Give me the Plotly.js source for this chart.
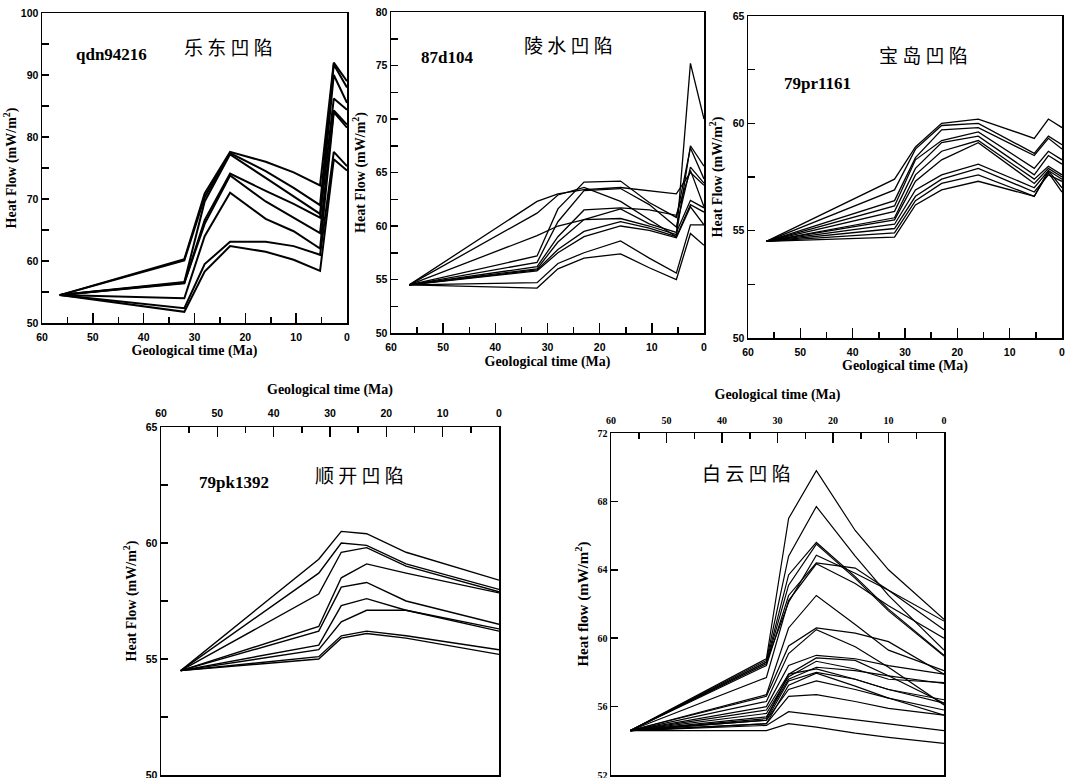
<!DOCTYPE html>
<html>
<head>
<meta charset="utf-8">
<script src="https://cdn.plot.ly/plotly-3.0.1.min.js"></script>
<style>
html,body{margin:0;padding:0;background:#fff;}
#chart{width:1070px;height:778px;}
</style>
</head>
<body>
<div id="chart"></div>
<script>
// ---------------- DATA ----------------
// 乐东凹陷 qdn94216
const ledongTime = [56.5, 32, 28, 23, 16, 10.5, 5.3, 2.6, 0];
const ledongSeries = [
  [54.5, 60.3, 70.9, 77.6, 76.0, 74.3, 72.2, 92.0, 89.0],
  [54.5, 60.1, 70.3, 77.4, 74.5, 71.8, 69.0, 91.7, 88.0],
  [54.5, 56.6, 69.6, 77.2, 73.4, 70.4, 67.6, 90.0, 85.5],
  [54.5, 56.4, 66.6, 74.1, 71.3, 69.2, 67.0, 86.2, 84.4],
  [54.5, 56.5, 66.0, 73.8, 69.6, 67.0, 64.5, 84.3, 82.0],
  [54.5, 54.0, 64.0, 71.0, 66.8, 64.8, 62.0, 84.0, 81.5],
  [54.5, 52.4, 59.5, 63.1, 63.1, 62.4, 61.0, 77.6, 75.3],
  [54.5, 51.8, 58.3, 62.4, 61.5, 60.2, 58.4, 76.4, 74.6]
];
// 陵水凹陷 87d104
const lingshuiTime = [56.5, 32, 28, 23, 16, 10.5, 5.3, 2.6, 0];
const lingshuiSeries = [
  [54.5, 62.3, 63.0, 63.4, 63.6, 63.3, 63.0, 65.0, 63.8],
  [54.5, 61.2, 62.9, 63.6, 62.3, 60.6, 59.0, 75.2, 70.0],
  [54.5, 59.1, 60.0, 60.6, 60.7, 60.0, 59.2, 67.5, 65.6],
  [54.5, 57.2, 61.6, 64.1, 64.2, 62.2, 60.8, 67.3, 64.4],
  [54.5, 56.6, 60.4, 63.3, 63.5, 62.0, 59.9, 65.5, 64.0],
  [54.5, 56.2, 59.0, 61.5, 61.7, 61.5, 61.0, 65.2, 61.8],
  [54.5, 56.0, 58.5, 60.6, 61.6, 60.2, 59.4, 62.4, 61.7],
  [54.5, 55.9, 57.8, 59.5, 60.4, 59.8, 59.0, 62.0, 61.3],
  [54.5, 55.8, 57.5, 59.0, 60.0, 59.6, 58.9, 61.8, 60.1],
  [54.5, 54.7, 56.5, 57.5, 58.6, 57.0, 55.6, 60.1, 60.1],
  [54.5, 54.2, 56.0, 57.0, 57.4, 56.1, 55.0, 59.3, 58.2]
];
// 宝岛凹陷 79pr1161
const baodaoTime = [56.5, 32, 28, 23, 16, 5.3, 2.6, 0];
const baodaoSeries = [
  [54.5, 57.4, 58.9, 60.0, 60.2, 59.3, 60.2, 59.8],
  [54.5, 56.9, 58.8, 59.9, 60.0, 58.6, 59.4, 59.0],
  [54.5, 56.4, 58.4, 59.7, 59.8, 58.5, 59.3, 58.8],
  [54.5, 56.15, 58.3, 59.2, 59.6, 57.9, 58.7, 58.3],
  [54.5, 55.9, 57.9, 59.1, 59.4, 57.6, 58.5, 58.1],
  [54.5, 55.6, 57.6, 58.7, 59.2, 57.4, 58.0, 57.6],
  [54.5, 55.5, 57.3, 58.3, 59.1, 57.2, 57.9, 57.5],
  [54.5, 55.3, 56.9, 57.6, 58.1, 57.0, 57.8, 57.4],
  [54.5, 55.1, 56.6, 57.4, 57.9, 56.8, 57.6, 57.3],
  [54.5, 54.9, 56.4, 57.2, 57.6, 56.6, 57.8, 57.0],
  [54.5, 54.7, 56.2, 56.9, 57.3, 56.6, 57.7, 56.8]
];
// 顺开凹陷 79pk1392
const shunkaiTime = [56.5, 32, 28, 23.5, 16.5, 0];
const shunkaiSeries = [
  [54.5, 59.3, 60.5, 60.4, 59.6, 58.4],
  [54.5, 58.7, 60.0, 59.9, 59.1, 58.0],
  [54.5, 57.8, 59.6, 59.8, 59.0, 57.9],
  [54.5, 56.4, 58.5, 59.1, 58.7, 57.85],
  [54.5, 56.2, 58.1, 58.3, 57.5, 56.5],
  [54.5, 55.6, 57.3, 57.6, 57.1, 56.3],
  [54.5, 55.4, 56.6, 57.1, 57.1, 56.2],
  [54.5, 55.1, 56.0, 56.2, 56.0, 55.4],
  [54.5, 55.0, 55.9, 56.1, 55.9, 55.2]
];
// 白云凹陷
const baiyunTime = [56.5, 32, 28, 23, 16, 10, 0];
const baiyunSeries = [
  [54.6, 58.8, 67.0, 69.8, 66.3, 64.0, 61.1],
  [54.6, 58.7, 64.8, 67.7, 64.8, 62.5, 59.3],
  [54.6, 58.6, 63.7, 65.6, 63.6, 61.7, 59.0],
  [54.6, 58.5, 63.1, 65.5, 63.5, 61.6, 58.95],
  [54.6, 58.6, 62.1, 64.85, 63.8, 62.8, 60.5],
  [54.6, 58.4, 62.5, 64.4, 64.1, 62.8, 61.0],
  [54.6, 57.7, 62.2, 64.35, 63.2, 61.9, 60.0],
  [54.6, 56.7, 60.6, 62.5, 60.8, 59.3, 58.1],
  [54.6, 56.6, 59.55, 60.6, 60.3, 59.8, 57.9],
  [54.6, 56.3, 59.1, 60.5, 59.5, 58.3, 56.1],
  [54.6, 56.0, 58.4, 59.0, 58.8, 58.4, 57.9],
  [54.6, 55.8, 57.9, 58.85, 58.7, 57.8, 56.2],
  [54.6, 55.6, 57.75, 58.65, 58.2, 57.6, 57.4],
  [54.6, 55.4, 57.6, 58.3, 58.1, 57.8, 57.35],
  [54.6, 55.3, 57.9, 58.2, 57.6, 57.0, 56.4],
  [54.6, 55.2, 57.5, 58.0, 57.6, 57.0, 56.2],
  [54.6, 55.0, 57.25, 57.95, 57.2, 56.5, 55.8],
  [54.6, 55.2, 57.0, 57.5, 57.0, 56.5, 55.5],
  [54.6, 55.0, 56.6, 56.7, 56.3, 55.9, 55.5],
  [54.6, 54.9, 55.7, 55.5, 55.2, 55.0, 54.6],
  [54.6, 54.6, 55.0, 54.8, 54.45, 54.2, 53.85]
];

const panelNames = ['乐 东 凹 陷', '陵 水 凹 陷', '宝 岛 凹 陷', '顺 开 凹 陷', '白 云 凹 陷'];
const wellNames = ['qdn94216', '87d104', '79pr1161', '79pk1392', ''];
const xTitle = 'Geological time (Ma)';
const yTitleA = 'Heat Flow (mW/m<sup>2</sup>)';
const yTitleB = 'Heat flow (mW/m<sup>2</sup>)';

// ---------------- TRACES ----------------
const traces = [];
function addPanel(time, series, axSuffix, width) {
  series.forEach(s => {
    traces.push({
      x: time, y: s, type: 'scatter', mode: 'lines',
      xaxis: 'x' + axSuffix, yaxis: 'y' + axSuffix,
      line: {color: '#000', width: width},
      hoverinfo: 'x+y', showlegend: false
    });
  });
}
addPanel(ledongTime, ledongSeries, '', 2);
addPanel(lingshuiTime, lingshuiSeries, '2', 1.3);
addPanel(baodaoTime, baodaoSeries, '3', 1.3);
addPanel(shunkaiTime, shunkaiSeries, '4', 1.4);
addPanel(baiyunTime, baiyunSeries, '5', 1.2);

// ---------------- LAYOUT ----------------
const W = 1070, H = 778;
const px = v => v / W;
const py = v => 1 - v / H;
const sansBold = {family: 'Liberation Sans, Arial, sans-serif', size: 10.5, color: '#000', weight: 'bold'};
const serifBold = {family: 'Liberation Serif, Times New Roman, serif', size: 14, color: '#000', weight: 'bold'};

function xAx(l, r, side, tickFont, standoff, lblStandoff) {
  return {
    domain: [px(l), px(r)], range: [60, 0], side: side,
    tickmode: 'linear', tick0: 0, dtick: 10,
    ticks: 'inside', ticklen: 10, tickwidth: 1.5, tickcolor: '#000',
    minor: {tickmode: 'linear', tick0: 5, dtick: 10, ticks: 'inside', ticklen: 6, tickwidth: 1.5, tickcolor: '#000'},
    showline: true, linewidth: 1.5, linecolor: '#000', mirror: true,
    showgrid: false, zeroline: false,
    tickfont: tickFont, ticklabelstandoff: lblStandoff, ticklabeloverflow: 'allow',
    title: {text: xTitle, font: serifBold, standoff: standoff}
  };
}
function yAx(t, b, lo, hi, step, minorStep, tickFont, titleText, standoff, anchor) {
  const ax = {
    domain: [py(b), py(t)], range: [lo, hi],
    tickmode: 'linear', tick0: lo, dtick: step,
    ticks: 'inside', ticklen: 7, tickwidth: 1.5, tickcolor: '#000',
    showline: true, linewidth: 1.5, linecolor: '#000', mirror: true,
    showgrid: false, zeroline: false,
    tickfont: tickFont, ticklabeloverflow: 'allow',
    title: {text: titleText, font: serifBold, standoff: standoff},
    anchor: anchor
  };
  if (minorStep) ax.minor = {tickmode: 'linear', tick0: lo + minorStep, dtick: step, ticks: 'inside', ticklen: 7, tickwidth: 1.5, tickcolor: '#000'};
  return ax;
}

const layout = {
  width: W, height: H,
  margin: {l: 0, r: 0, t: 0, b: 0},
  paper_bgcolor: '#fff', plot_bgcolor: '#fff',
  showlegend: false,
  xaxis: Object.assign(xAx(42, 347, 'bottom', sansBold, 3, 4), {anchor: 'y'}),
  yaxis: yAx(13, 323, 50, 100, 10, 5, sansBold, yTitleA, 1, 'x'),
  xaxis2: Object.assign(xAx(391, 704, 'bottom', sansBold, 4, 4), {anchor: 'y2'}),
  yaxis2: yAx(12, 333, 50, 80, 5, 2.5, sansBold, yTitleA, 7, 'x2'),
  xaxis3: Object.assign(xAx(748, 1062, 'bottom', sansBold, 3, 4), {anchor: 'y3'}),
  yaxis3: yAx(16, 338, 50, 65, 5, 2.5, sansBold, yTitleA, 7, 'x3'),
  xaxis4: Object.assign(xAx(161, 499, 'top', sansBold, 9, 4), {anchor: 'y4'}),
  yaxis4: yAx(427, 775, 50, 65, 5, 2.5, sansBold, yTitleA, 6, 'x4'),
  xaxis5: Object.assign(xAx(611, 944, 'top', Object.assign({}, serifBold, {size: 10}), 11, 4), {anchor: 'y5'}),
  yaxis5: yAx(433, 775, 52, 72, 4, 0, Object.assign({}, serifBold, {size: 10}), yTitleB, 5, 'x5'),
  annotations: []
};
layout.yaxis5.title.font = Object.assign({}, serifBold, {size: 15});

const cjkFont = {family: 'Noto Sans CJK SC, sans-serif', size: 19, color: '#000'};
const wellFont = {family: 'Liberation Serif, Times New Roman, serif', size: 17, color: '#000', weight: 'bold'};
// [name x, name y, well x (left), well y]
const labelPos = [
  [228, 46, 74, 54],
  [568, 45, 419, 58],
  [923, 55, 782, 84],
  [359, 474, 197, 482],
  [746, 473, 0, 0]
];
labelPos.forEach((p, i) => {
  layout.annotations.push({
    xref: 'paper', yref: 'paper', x: px(p[0]), y: py(p[1]),
    xanchor: 'center', yanchor: 'middle', showarrow: false,
    text: panelNames[i], font: cjkFont
  });
  if (wellNames[i]) {
    layout.annotations.push({
      xref: 'paper', yref: 'paper', x: px(p[2]), y: py(p[3]),
      xanchor: 'left', yanchor: 'middle', showarrow: false,
      text: wellNames[i], font: wellFont
    });
  }
});

Plotly.newPlot('chart', traces, layout, {displayModeBar: false, staticPlot: true});
</script>
</body>
</html>
